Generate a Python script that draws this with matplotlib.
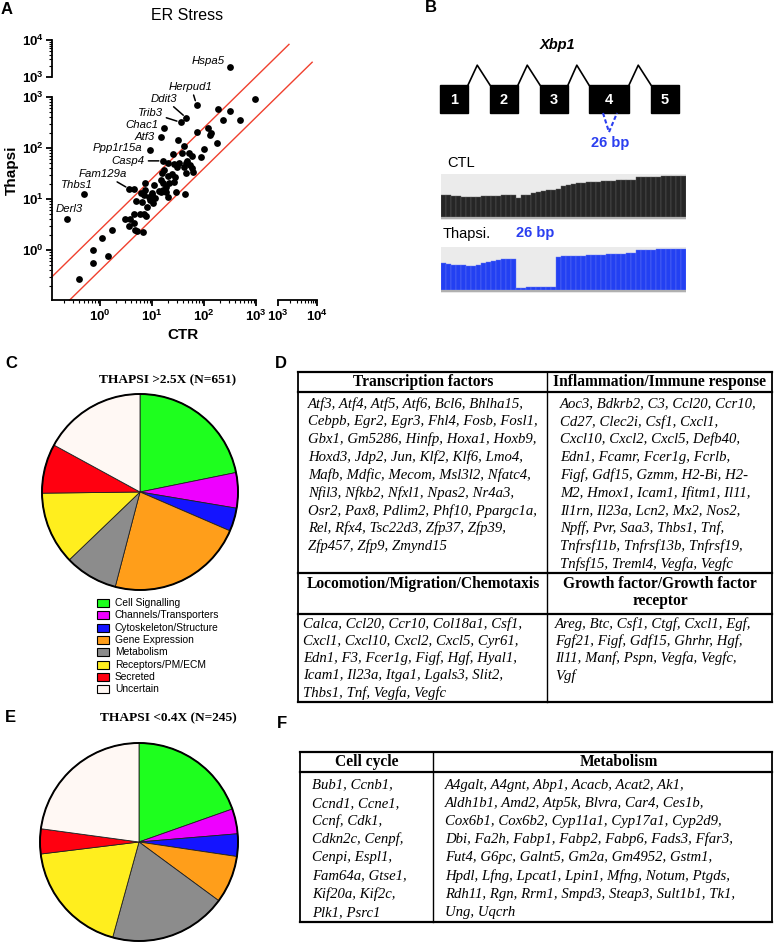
import numpy as np
import matplotlib
matplotlib.use('Agg')
import matplotlib.pyplot as plt
from matplotlib.patches import Rectangle, Circle
from matplotlib.ticker import FixedLocator, FuncFormatter, LogLocator, NullFormatter, NullLocator

plt.rcParams['font.family'] = ['Liberation Sans', 'DejaVu Sans']
plt.rcParams['mathtext.fontset'] = 'custom'
plt.rcParams['mathtext.rm'] = 'Liberation Sans'
plt.rcParams['mathtext.it'] = 'Liberation Sans:italic'
plt.rcParams['mathtext.bf'] = 'Liberation Sans:bold'

# ---------------- data ----------------
# panel A: ER stress genes, CTR vs Thapsi
ctr = [950, 190, 316, 495, 230, 72, 122, 137, 133, 177, 31.4, 42, 100, 25.5, 52, 60, 88, 38,
       20, 27, 33, 45, 48, 55, 60, 40.5, 30, 62, 45, 17, 15.6, 20, 24, 27.5, 14.7, 16.6, 21.6,
       27, 18.4, 16, 13.6, 11, 7.2, 7.5, 10, 11.4, 14.7, 19, 20.4, 29, 43.6, 7, 8.7, 6.2, 4.5,
       6.4, 4.9, 9, 10.6, 8.1, 6, 4.5, 7, 7.8, 3.8, 3.1, 4.5, 3.6, 4.8, 5.2, 6.8, 1.74, 1.1,
       0.74, 1.4, 0.74, 0.39, 10]
thapsi = [900, 590, 540, 350, 355, 205, 246, 200, 182, 127, 144, 112, 97, 77, 81, 70, 66, 79,
          50, 49, 51, 50, 55, 46, 41, 43, 43, 34, 33, 37, 32, 28, 31, 27.5, 23.6, 21, 21,
          22, 17.4, 15, 14.4, 18.6, 21, 15, 12, 10.6, 13.5, 13.9, 11.1, 13.7, 12.3, 12, 11.1, 13, 15.5,
          8.9, 9.1, 9.6, 8.2, 7.1, 5.2, 5.2, 5.2, 4.6, 4.0, 4.1, 3.4, 2.9, 2.5, 2.4, 2.3, 2.5, 1.7,
          1.0, 0.77, 0.56, 0.27, 13.2]
label_genes = ['Herpud1', 'Ddit3', 'Trib3', 'Chac1', 'Atf3', 'Ppp1r15a', 'Casp4', 'Fam129a', 'Thbs1', 'Derl3']
label_ctr = [72, 46, 36, 17.3, 14.7, 9.0, 16.3, 3.7, 0.50, 0.23]
label_thapsi = [708, 388, 318, 243, 164, 93, 56, 15.7, 12.4, 4.05]
top_gene, top_ctr, top_thapsi = 'Hspa5', 316, 1870
fold_up, fold_down = 2.5, 0.4

# panel B: Xbp1 exons (gene units) and read coverage
exon_start = [0, 50, 100, 149, 211]
exon_len = [28, 28, 28, 40, 28]
cov_ctl = [0.51, 0.50, 0.49, 0.48, 0.47, 0.47, 0.46, 0.47, 0.48, 0.49, 0.48, 0.49, 0.50, 0.50,
           0.51, 0.44, 0.50, 0.52, 0.55, 0.59, 0.61, 0.62, 0.63, 0.64, 0.72, 0.74, 0.76, 0.79,
           0.80, 0.81, 0.82, 0.82, 0.83, 0.83, 0.84, 0.85, 0.85, 0.86, 0.86, 0.93, 0.93, 0.94,
           0.94, 0.94, 0.95, 0.95, 0.95, 0.96, 0.96]
cov_thapsi = [0.62, 0.61, 0.59, 0.57, 0.57, 0.56, 0.56, 0.58, 0.63, 0.66, 0.68, 0.70, 0.71, 0.71,
              0.71, 0.05, 0.05, 0.06, 0.06, 0.07, 0.07, 0.07, 0.08, 0.76, 0.78, 0.79, 0.79, 0.80,
              0.80, 0.81, 0.81, 0.82, 0.82, 0.83, 0.83, 0.84, 0.84, 0.85, 0.86, 0.93, 0.94, 0.94,
              0.94, 0.95, 0.95, 0.95, 0.95, 0.96, 0.96]

# panels C / E: functional categories
categories = ['Cell Signalling', 'Channels/Transporters', 'Cytoskeleton/Structure', 'Gene Expression',
              'Metabolism', 'Receptors/PM/ECM', 'Secreted', 'Uncertain']
cat_colors = ['#1eff1e', '#ee00ff', '#1414ff', '#ff9e1a', '#8c8c8c', '#ffee1e', '#ff0010', '#fff8f4']
up_counts = [142, 38, 25, 147, 57, 78, 53, 111]
down_counts = [48, 10, 9, 19, 47, 46, 10, 56]

# panel D
d_headers = ['Transcription factors', 'Inflammation/Immune response',
             'Locomotion/Migration/Chemotaxis', 'Growth factor/Growth factor\nreceptor']
d_tf = ['Atf3, Atf4, Atf5, Atf6, Bcl6, Bhlha15,', 'Cebpb, Egr2, Egr3, Fhl4, Fosb, Fosl1,',
        'Gbx1, Gm5286, Hinfp, Hoxa1, Hoxb9,', 'Hoxd3, Jdp2, Jun, Klf2, Klf6, Lmo4,',
        'Mafb, Mdfic, Mecom, Msl3l2, Nfatc4,', 'Nfil3, Nfkb2, Nfxl1, Npas2, Nr4a3,',
        'Osr2, Pax8, Pdlim2, Phf10, Ppargc1a,', 'Rel, Rfx4, Tsc22d3, Zfp37, Zfp39,',
        'Zfp457, Zfp9, Zmynd15']
d_imm = ['Aoc3, Bdkrb2, C3, Ccl20, Ccr10,', 'Cd27, Clec2i, Csf1, Cxcl1,',
         'Cxcl10, Cxcl2, Cxcl5, Defb40,', 'Edn1, Fcamr, Fcer1g, Fcrlb,',
         'Figf, Gdf15, Gzmm, H2-Bi, H2-', 'M2, Hmox1, Icam1, Ifitm1, Il11,',
         'Il1rn, Il23a, Lcn2, Mx2, Nos2,', 'Npff, Pvr, Saa3, Thbs1, Tnf,',
         'Tnfrsf11b, Tnfrsf13b, Tnfrsf19,', 'Tnfsf15, Treml4, Vegfa, Vegfc']
d_loc = ['Calca, Ccl20, Ccr10, Col18a1, Csf1,', 'Cxcl1, Cxcl10, Cxcl2, Cxcl5, Cyr61,',
         'Edn1, F3, Fcer1g, Figf, Hgf, Hyal1,', 'Icam1, Il23a, Itga1, Lgals3, Slit2,',
         'Thbs1, Tnf, Vegfa, Vegfc']
d_gf = ['Areg, Btc, Csf1, Ctgf, Cxcl1, Egf,', 'Fgf21, Figf, Gdf15, Ghrhr, Hgf,',
        'Il11, Manf, Pspn, Vegfa, Vegfc,', 'Vgf']

# panel F
f_headers = ['Cell cycle', 'Metabolism']
f_cc = ['Bub1, Ccnb1,', 'Ccnd1, Ccne1,', 'Ccnf, Cdk1,', 'Cdkn2c, Cenpf,', 'Cenpi, Espl1,',
        'Fam64a, Gtse1,', 'Kif20a, Kif2c,', 'Plk1, Psrc1']
f_met = ['A4galt, A4gnt, Abp1, Acacb, Acat2, Ak1,', 'Aldh1b1, Amd2, Atp5k, Blvra, Car4, Ces1b,',
         'Cox6b1, Cox6b2, Cyp11a1, Cyp17a1, Cyp2d9,', 'Dbi, Fa2h, Fabp1, Fabp2, Fabp6, Fads3, Ffar3,',
         'Fut4, G6pc, Galnt5, Gm2a, Gm4952, Gstm1,', 'Hpdl, Lfng, Lpcat1, Lpin1, Mfng, Notum, Ptgds,',
         'Rdh11, Rgn, Rrm1, Smpd3, Steap3, Sult1b1, Tk1,', 'Ung, Uqcrh']

# ---------------- figure ----------------
W, H = 778, 943
fig = plt.figure(figsize=(W / 100, H / 100), dpi=100)


def px_axes(x0, y0, x1, y1):
    a = fig.add_axes([x0 / W, 1 - y1 / H, (x1 - x0) / W, (y1 - y0) / H])
    a.set_facecolor('none')
    return a


cv = px_axes(0, 0, W, H)
cv.set_xlim(0, W)
cv.set_ylim(H, 0)
cv.axis('off')

SERIF = 'Liberation Serif'
for let, x, y in [('A', 7, 9), ('B', 431, 8), ('C', 11, 363), ('D', 281, 363), ('E', 10, 718), ('F', 282, 723)]:
    cv.text(x, y, let, fontsize=12, fontweight='bold', ha='center', va='center')

# ---------------- panel A ----------------
def dec_fmt(v, pos):
    return r'$\mathbf{10^{%d}}$' % round(np.log10(v))


def style_log(axis, majors):
    axis.set_major_locator(FixedLocator(majors))
    axis.set_major_formatter(FuncFormatter(dec_fmt))
    axis.set_minor_locator(LogLocator(base=10, subs=np.arange(2, 10), numticks=20))
    axis.set_minor_formatter(NullFormatter())


SPW = 1.3
ax = px_axes(52, 97, 256, 300)
ax.set_xscale('log')
ax.set_yscale('log')
ax.set_xlim(0.12, 1000)
ax.set_ylim(0.105, 1000)
for s in ['top', 'right']:
    ax.spines[s].set_visible(False)
for s in ['left', 'bottom']:
    ax.spines[s].set_linewidth(SPW)
style_log(ax.xaxis, [1, 10, 100, 1000])
style_log(ax.yaxis, [1, 10, 100, 1000])
ax.tick_params(which='major', length=4, width=SPW, labelsize=9.5, pad=2)
ax.tick_params(which='minor', length=2, width=0.8)

ax.scatter(ctr, thapsi, s=24, c='black', zorder=3, clip_on=False, linewidths=0)
ax.scatter(label_ctr, label_thapsi, s=24, c='black', zorder=3, clip_on=False, linewidths=0)

xu = np.array([0.12, 4300])
ax.plot(xu, fold_up * xu, color='#f0402e', lw=1.0, clip_on=False, zorder=2)
xd = np.array([0.26, 12000])
ax.plot(xd, fold_down * xd, color='#f0402e', lw=1.0, clip_on=False, zorder=2)

# text offsets (points), alignment and leader-line flags for labelled genes
label_style = {
    'Herpud1': ((-4, 13), 'center', True),
    'Ddit3': ((-16, 14), 'center', True),
    'Trib3': ((-22, 7), 'center', True),
    'Chac1': ((-4, 2.5), 'right', False),
    'Atf3': ((-4, 0), 'right', False),
    'Ppp1r15a': ((-5, 1), 'right', False),
    'Casp4': ((-13, 0), 'right', True),
    'Fam129a': ((-19, 11), 'center', True),
    'Thbs1': ((-5, 7), 'center', False),
    'Derl3': ((2, 7), 'center', False),
}
for g, xv, yv in zip(label_genes, label_ctr, label_thapsi):
    off, ha, line = label_style[g]
    ap = dict(arrowstyle='-', color='black', lw=1.1, shrinkA=0.5, shrinkB=3) if line else None
    ax.annotate(g, xy=(xv, yv), xytext=off, textcoords='offset points', ha=ha, va='center',
                fontsize=8.2, style='italic', arrowprops=ap, annotation_clip=False)

axt = px_axes(52, 40, 256, 77)
axt.set_xscale('log')
axt.set_yscale('log')
axt.set_xlim(0.12, 1000)
axt.set_ylim(1000, 10000)
for s in ['top', 'right', 'bottom']:
    axt.spines[s].set_visible(False)
axt.spines['left'].set_linewidth(SPW)
axt.xaxis.set_major_locator(NullLocator())
axt.xaxis.set_minor_locator(NullLocator())
style_log(axt.yaxis, [1000, 10000])
axt.tick_params(which='major', length=4, width=SPW, labelsize=9.5, pad=2)
axt.tick_params(which='minor', length=2, width=0.8)
axt.scatter([top_ctr], [top_thapsi], s=24, c='black', zorder=3, clip_on=False, linewidths=0)
axt.annotate(top_gene, xy=(top_ctr, top_thapsi), xytext=(-4, 4), textcoords='offset points',
             ha='right', va='center', fontsize=8.2, style='italic')

axr = px_axes(278, 97, 317, 300)
axr.set_xscale('log')
axr.set_xlim(1000, 10000)
for s in ['top', 'right', 'left']:
    axr.spines[s].set_visible(False)
axr.spines['bottom'].set_linewidth(SPW)
axr.yaxis.set_major_locator(NullLocator())
axr.yaxis.set_minor_locator(NullLocator())
style_log(axr.xaxis, [1000, 10000])
axr.tick_params(which='major', length=4, width=SPW, labelsize=9.5, pad=2)
axr.tick_params(which='minor', length=2, width=0.8)

cv.text(187, 15, 'ER Stress', fontsize=11.5, ha='center', va='center')
cv.text(12, 170, 'Thapsi', fontsize=11, fontweight='bold', rotation=90, ha='center', va='center')
cv.text(183, 335, 'CTR', fontsize=11, fontweight='bold', ha='center', va='center')

# ---------------- panel B ----------------
gx = px_axes(430, 40, 690, 150)
gx.set_xlim(-10, 250)
gx.set_ylim(-1.32, 2.61)
gx.axis('off')
for i, (st, ln) in enumerate(zip(exon_start, exon_len)):
    gx.add_patch(Rectangle((st, 0), ln, 1, facecolor='black', edgecolor='black'))
    gx.text(st + ln / 2, 0.45, str(i + 1), color='white', fontsize=10.5, fontweight='bold',
            ha='center', va='center')
    if i < len(exon_start) - 1:
        e = st + ln
        nxt = exon_start[i + 1]
        gx.plot([e, e + 0.42 * (nxt - e), nxt], [1, 1.71, 1], color='black', lw=1.2)
e4 = exon_start[3]
gx.plot([e4 + 14, e4 + 20, e4 + 28], [0, -0.68, 0], color='#2b3ff0', lw=1.5, ls=(0, (2, 1.2)))
gx.text(e4 + 21, -1.07, '26 bp', color='#2b3ff0', fontsize=10.5, fontweight='bold', ha='center', va='center')
gx.text(117, 2.43, 'Xbp1', fontsize=10.5, fontweight='bold', style='italic', ha='center', va='center')


def cov_track(box, vals, color, edge):
    t = px_axes(*box)
    t.set_facecolor('#ebebeb')
    t.bar(np.arange(len(vals)), vals, width=1.0, align='edge', color=color, edgecolor=edge, linewidth=0.3)
    t.axhline(-0.035, color='#b0b0b0', lw=1.5)
    t.set_xlim(0, len(vals))
    t.set_ylim(-0.07, 1.0)
    t.set_xticks([])
    t.set_yticks([])
    for s in t.spines.values():
        s.set_visible(False)
    return t


cov_track((441, 174, 686, 220), cov_ctl, '#262626', '#606060')
cov_track((441, 247, 686, 293), cov_thapsi, '#2340f2', '#6578f5')
cv.text(447, 163, 'CTL', fontsize=10.5, ha='left', va='center')
cv.text(443, 234, 'Thapsi.', fontsize=10.5, ha='left', va='center')
cv.text(535, 233, '26 bp', color='#2b3ff0', fontsize=10.5, fontweight='bold', ha='center', va='center')
cv.annotate('', xy=(556, 252), xytext=(511, 252),
            arrowprops=dict(arrowstyle='<|-|>', color='black', lw=1.2, mutation_scale=9, shrinkA=0, shrinkB=0))

# ---------------- panels C / E ----------------
def pie_panel(cx, cy, r, counts, title, ty):
    p = px_axes(cx - r - 2, cy - r - 2, cx + r + 2, cy + r + 2)
    p.pie(counts, colors=cat_colors, startangle=90, counterclock=False, radius=1,
          wedgeprops=dict(edgecolor='#202020', linewidth=0.6))
    p.add_patch(Circle((0, 0), 1, fill=False, edgecolor='black', lw=1.4))
    lim = 1 + 2 / r
    p.set_xlim(-lim, lim)
    p.set_ylim(-lim, lim)
    p.set_aspect('equal')
    cv.text(168, ty, title, fontsize=9.6, fontweight='bold', family=SERIF, ha='center', va='center')


pie_panel(140, 492, 98, up_counts, 'THAPSI >2.5X (N=651)', 380)
pie_panel(139, 842, 99, down_counts, 'THAPSI <0.4X (N=245)', 718)

for i, (cat, col) in enumerate(zip(categories, cat_colors)):
    yy = 603 + i * 12.3
    cv.add_patch(Rectangle((97, yy - 4), 12, 8, facecolor=col, edgecolor='black', lw=0.8))
    cv.text(115, yy, cat, fontsize=7.4, ha='left', va='center')

# ---------------- tables ----------------
def grid(hs, vs, x0, x1, y0, y1):
    for y in hs:
        cv.plot([x0, x1], [y, y], color='black', lw=1.6, solid_capstyle='projecting')
    for x in vs:
        cv.plot([x, x], [y0, y1], color='black', lw=1.3 if x in (x0, x1) else 1.0,
                solid_capstyle='projecting')


def body(lines, x, y0, dy):
    for k, ln in enumerate(lines):
        cv.text(x, y0 + k * dy, ln, fontsize=10.6, style='italic', family=SERIF, ha='left', va='center')


HFS = 11.2
# D
grid([372, 392, 573, 614, 702], [298, 547, 772], 298, 772, 372, 702)
cv.text(423, 382, d_headers[0], fontsize=HFS, fontweight='bold', family=SERIF, ha='center', va='center')
cv.text(660, 382, d_headers[1], fontsize=HFS, fontweight='bold', family=SERIF, ha='center', va='center')
cv.text(423, 584, d_headers[2], fontsize=HFS, fontweight='bold', family=SERIF, ha='center', va='center')
cv.text(660, 576, d_headers[3], fontsize=HFS, fontweight='bold', family=SERIF, ha='center', va='top',
        linespacing=1.1)
body(d_tf, 308, 404, 17.8)
body(d_imm, 560, 404, 17.8)
body(d_loc, 303, 624, 17.3)
body(d_gf, 555, 624, 17.3)

# F
grid([752, 772, 922], [300, 433, 772], 300, 772, 752, 922)
cv.text(367, 762, f_headers[0], fontsize=HFS, fontweight='bold', family=SERIF, ha='center', va='center')
cv.text(619, 762, f_headers[1], fontsize=HFS, fontweight='bold', family=SERIF, ha='center', va='center')
body(f_cc, 312, 785, 18.2)
body(f_met, 445, 785, 18.2)

fig.savefig('out.png', dpi=100)
